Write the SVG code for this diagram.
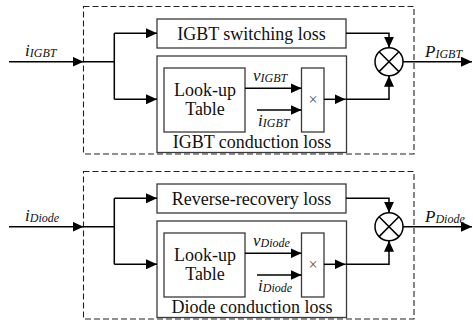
<svg xmlns="http://www.w3.org/2000/svg" width="473" height="331" viewBox="0 0 473 331">
<defs>
<style>
.dash{fill:none;stroke:#222;stroke-width:1.1;stroke-dasharray:6 3}
.box{fill:#fff;stroke:#3a3a3a;stroke-width:1.3}
.ln{fill:none;stroke:#000;stroke-width:1.5}
.ar{fill:none;stroke:#000;stroke-width:1.5;marker-end:url(#ah)}
.t{font-family:"Liberation Serif","Times New Roman",serif;font-size:18px;fill:#111}
.tc{text-anchor:middle}
.it{font-family:"Liberation Serif","Times New Roman",serif;font-style:italic;font-size:17px;fill:#111}
.sub{font-size:12px}
.mul{font-family:"Liberation Serif","Times New Roman",serif;font-size:16px;fill:#555;text-anchor:middle}
.sum{fill:#fff;stroke:#000;stroke-width:1.5}
</style>
<marker id="ah" viewBox="0 0 11 10" refX="11" refY="5" markerWidth="11" markerHeight="10" markerUnits="userSpaceOnUse" orient="auto">
<path d="M0,0 L11,5 L0,10 z" fill="#000"/>
</marker>
</defs>
<rect width="473" height="331" fill="#fff"/>

<!-- IGBT section -->
<g id="igbt-group"><rect class="dash" x="83.5" y="6.5" width="330.5" height="147.5"/></g>
<g id="igbt-switching"><rect class="box" x="157" y="19" width="189" height="29"/><text class="t tc" x="251.5" y="39.5">IGBT switching loss</text></g>
<g id="igbt-conduction"><rect class="box" x="157" y="56" width="189.5" height="96.5"/><text class="t tc" x="252" y="148">IGBT conduction loss</text></g>
<g id="igbt-lut"><rect class="box" x="164" y="68" width="81" height="64"/><text class="t tc" x="205" y="96">Look-up</text><text class="t tc" x="205" y="115">Table</text></g>
<g id="igbt-mult"><rect class="box" x="301.5" y="68" width="22.5" height="64"/><text class="mul" x="313" y="105">×</text></g>
<g id="igbt-sum"><circle class="sum" cx="389" cy="61.7" r="14"/><path class="ln" d="M379.1,51.8 L398.9,71.6 M398.9,51.8 L379.1,71.6"/></g>

<!-- Diode section -->
<g id="diode-group"><rect class="dash" x="83.5" y="171.5" width="330.5" height="147.5"/></g>
<g id="diode-reverse"><rect class="box" x="157" y="184" width="189" height="29"/><text class="t tc" x="251.5" y="204.5">Reverse-recovery loss</text></g>
<g id="diode-conduction"><rect class="box" x="157" y="221" width="189.5" height="96.5"/><text class="t tc" x="252" y="313">Diode conduction loss</text></g>
<g id="diode-lut"><rect class="box" x="164" y="233" width="81" height="64"/><text class="t tc" x="205" y="261">Look-up</text><text class="t tc" x="205" y="280">Table</text></g>
<g id="diode-mult"><rect class="box" x="301.5" y="233" width="22.5" height="64"/><text class="mul" x="313" y="270">×</text></g>
<g id="diode-sum"><circle class="sum" cx="389" cy="226.7" r="14"/><path class="ln" d="M379.1,216.8 L398.9,236.6 M398.9,216.8 L379.1,236.6"/></g>

<g id="connectors">
<!-- IGBT -->
<path class="ar" d="M9,61.7 H83.5"/>
<path class="ln" d="M83.5,61.7 H114.3 M114.3,33.3 V99.3"/>
<path class="ar" d="M114.3,33.3 H157"/>
<path class="ar" d="M114.3,99.3 H157"/>
<path class="ar" d="M245,88.3 H301.5"/>
<path class="ar" d="M257,110 H301.5"/>
<path class="ar" d="M324,99.3 H345.5"/>
<path class="ar" d="M345.5,99.3 H389 V75.7"/>
<path class="ar" d="M346,33.3 H389 V47.7"/>
<path class="ar" d="M403,61.7 H472"/>
<!-- Diode -->
<path class="ar" d="M9,226.7 H83.5"/>
<path class="ln" d="M83.5,226.7 H114.3 M114.3,198.3 V264.3"/>
<path class="ar" d="M114.3,198.3 H157"/>
<path class="ar" d="M114.3,264.3 H157"/>
<path class="ar" d="M245,253.3 H301.5"/>
<path class="ar" d="M257,275 H301.5"/>
<path class="ar" d="M324,264.3 H345.5"/>
<path class="ar" d="M345.5,264.3 H389 V240.7"/>
<path class="ar" d="M346,198.3 H389 V212.7"/>
<path class="ar" d="M403,226.7 H472"/>
</g>

<g id="labels">
<text class="it" x="25" y="56">i<tspan class="sub" dy="1">IGBT</tspan></text>
<text class="it" x="253" y="81">v<tspan class="sub" dy="1">IGBT</tspan></text>
<text class="it" x="258" y="126">i<tspan class="sub" dy="1">IGBT</tspan></text>
<text class="it" x="425" y="57">P<tspan class="sub" dy="1">IGBT</tspan></text>
<text class="it" x="25" y="221">i<tspan class="sub" dy="1">Diode</tspan></text>
<text class="it" x="253" y="246">v<tspan class="sub" dy="1">Diode</tspan></text>
<text class="it" x="258" y="291">i<tspan class="sub" dy="1">Diode</tspan></text>
<text class="it" x="425" y="222">P<tspan class="sub" dy="1">Diode</tspan></text>
</g>
</svg>
